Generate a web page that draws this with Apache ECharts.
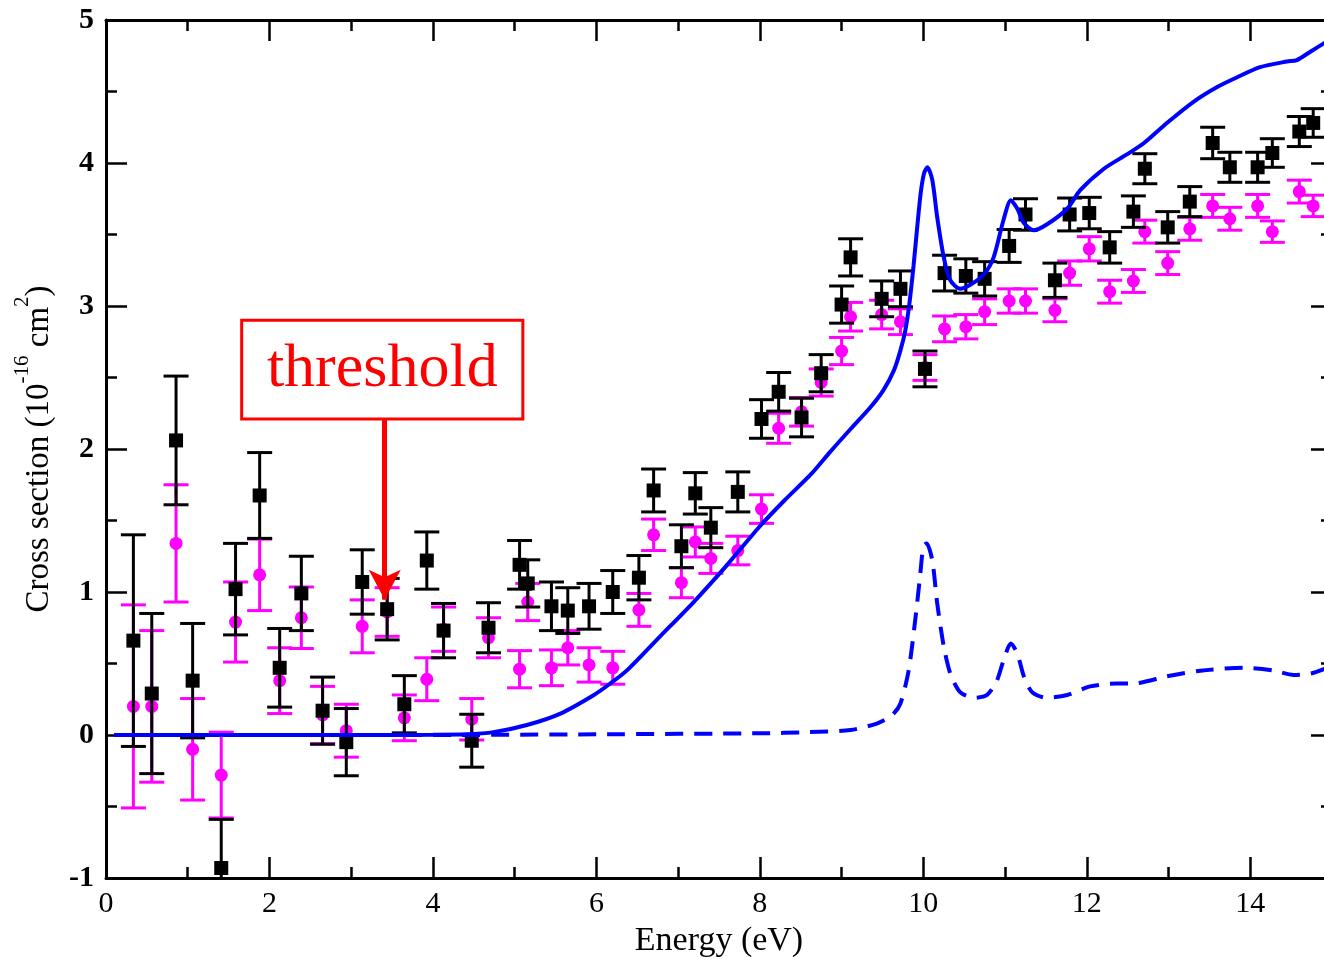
<!DOCTYPE html>
<html><head><meta charset="utf-8">
<script src="https://cdn.jsdelivr.net/npm/echarts@6/dist/echarts.min.js"></script>
<style>html,body{margin:0;padding:0;background:#fff}#c{width:1324px;height:957px}</style>
</head><body><div id="c"></div>
<script>
// Experimental set A (black squares)
const expAX = [0.335,0.56,0.857,1.06,1.41,1.585,1.88,2.125,2.39,2.65,2.94,3.135,3.44,3.65,3.925,4.13,4.475,4.68,5.06,5.16,5.45,5.65,5.91,6.20,6.52,6.70,7.04,7.21,7.40,7.73,8.02,8.23,8.51,8.75,9.00,9.11,9.49,9.72,10.02,10.26,10.52,10.75,11.05,11.25,11.61,11.79,12.03,12.28,12.57,12.71,12.99,13.26,13.54,13.75,14.09,14.27,14.60,14.77];
const expAY = [0.66,0.29,2.06,0.38,-0.93,1.02,1.675,0.47,0.99,0.17,-0.05,1.07,0.88,0.215,1.22,0.73,-0.04,0.75,1.19,1.06,0.90,0.87,0.90,1.00,1.10,1.71,1.32,1.69,1.45,1.70,2.21,2.40,2.22,2.53,3.01,3.34,3.05,3.12,2.56,3.23,3.21,3.19,3.42,3.64,3.18,3.64,3.65,3.41,3.66,3.96,3.55,3.73,4.14,3.97,3.97,4.07,4.22,4.28];
const expAErr = [0.74,0.56,0.45,0.40,0.34,0.32,0.30,0.275,0.26,0.235,0.235,0.225,0.215,0.20,0.20,0.19,0.185,0.175,0.17,0.165,0.17,0.16,0.16,0.15,0.155,0.15,0.15,0.145,0.14,0.14,0.135,0.135,0.135,0.13,0.13,0.13,0.125,0.125,0.125,0.125,0.12,0.12,0.115,0.11,0.12,0.115,0.11,0.11,0.11,0.105,0.11,0.105,0.11,0.105,0.105,0.10,0.105,0.10];
// Experimental set B (magenta circles)
const expBX = expAX;
const expBY = [0.20,0.20,1.34,-0.10,-0.28,0.79,1.12,0.38,0.82,0.14,0.03,0.76,0.86,0.12,0.39,0.74,0.11,0.68,0.46,0.93,0.47,0.61,0.49,0.47,0.875,1.40,1.065,1.35,1.235,1.29,1.58,2.145,2.26,2.465,2.685,2.925,2.94,2.89,2.57,2.84,2.855,2.96,3.035,3.035,2.97,3.23,3.40,3.10,3.175,3.52,3.30,3.54,3.70,3.61,3.70,3.52,3.80,3.70];
const expBErr = [0.71,0.53,0.41,0.355,0.30,0.28,0.25,0.23,0.215,0.20,0.185,0.185,0.17,0.16,0.15,0.155,0.145,0.14,0.13,0.13,0.125,0.12,0.12,0.115,0.115,0.11,0.105,0.105,0.105,0.10,0.10,0.105,0.10,0.095,0.095,0.10,0.10,0.09,0.09,0.09,0.085,0.09,0.085,0.085,0.08,0.085,0.085,0.08,0.08,0.08,0.08,0.08,0.08,0.08,0.08,0.075,0.08,0.075];
// Theory: total (solid)
const totalX = [0.1,1,2,3,4,4.4,4.74,5.15,5.56,5.97,6.17,6.37,6.78,7.19,7.6,8.0,8.3,8.62,8.86,9.11,9.35,9.51,9.64,9.72,9.78,9.83,9.88,9.93,9.97,10.01,10.05,10.11,10.17,10.25,10.33,10.45,10.58,10.74,10.86,10.98,11.07,11.15,11.23,11.35,11.51,11.76,11.92,12.21,12.49,12.7,12.98,13.31,13.59,13.84,14.12,14.45,14.57,14.74,14.91,15.0];
const totalY = [0,0,0,0,0.002,0.005,0.02,0.07,0.15,0.28,0.36,0.45,0.69,0.93,1.19,1.46,1.64,1.82,1.98,2.14,2.29,2.41,2.55,2.69,2.83,3.02,3.28,3.58,3.80,3.93,3.97,3.88,3.62,3.34,3.18,3.12,3.15,3.22,3.34,3.60,3.74,3.68,3.58,3.53,3.57,3.68,3.81,3.96,4.06,4.14,4.28,4.43,4.53,4.60,4.67,4.71,4.72,4.78,4.84,4.87];
// Theory: partial (dashed)
const partX = [0.1,4,6,8,8.6,9.11,9.43,9.62,9.72,9.82,9.9,9.96,10.0,10.04,10.11,10.17,10.25,10.33,10.45,10.62,10.78,10.9,10.98,11.07,11.15,11.23,11.33,11.51,11.76,12.04,12.37,12.57,12.98,13.39,13.92,14.29,14.53,14.74,14.9,15.0];
const partY = [0,0,0.005,0.012,0.02,0.035,0.08,0.14,0.22,0.45,0.8,1.11,1.32,1.34,1.22,0.92,0.62,0.43,0.30,0.26,0.28,0.38,0.52,0.64,0.57,0.41,0.30,0.26,0.28,0.34,0.36,0.36,0.41,0.45,0.47,0.45,0.42,0.43,0.46,0.47];
// Annotation
const annotText = 'threshold';
const annotBox = [[1.66, 2.90], [5.10, 2.21]];
const annotArrow = [[3.41, 2.21], [3.41, 0.945]];

const SERIF = 'Liberation Serif, Times New Roman, serif';
const zip = (xs, ys) => xs.map((x, i) => [x, ys[i]]);
const errData = (xs, ys, es) => xs.map((x, i) => [x, ys[i] - es[i], ys[i] + es[i]]);

function errRender(color) {
  return function (params, api) {
    const x = api.value(0), lo = api.value(1), hi = api.value(2);
    const a = api.coord([x, lo]), b = api.coord([x, hi]);
    const hw = 12.5;
    const style = { stroke: color, lineWidth: 3, fill: null };
    return { type: 'group', children: [
      { type: 'line', shape: { x1: a[0], y1: a[1], x2: b[0], y2: b[1] }, style },
      { type: 'line', shape: { x1: a[0] - hw, y1: a[1], x2: a[0] + hw, y2: a[1] }, style },
      { type: 'line', shape: { x1: b[0] - hw, y1: b[1], x2: b[0] + hw, y2: b[1] }, style }
    ]};
  };
}

const tickStyle = { color: '#000', width: 2.5 };
function xAx(pos, showLabel) {
  return {
    type: 'value', position: pos, min: 0, max: 15, interval: 2,
    axisLine: { onZero: false, lineStyle: { color: '#000', width: 3 } },
    axisTick: { inside: true, length: 21, lineStyle: tickStyle },
    minorTick: { show: true, splitNumber: 2, length: 11, lineStyle: tickStyle },
    splitLine: { show: false }, minorSplitLine: { show: false },
    axisLabel: { show: showLabel, showMaxLabel: false, color: '#000', fontFamily: SERIF, fontSize: 30, margin: 11 },
    name: showLabel ? 'Energy (eV)' : '', nameLocation: 'middle', nameGap: 46,
    nameTextStyle: { color: '#000', fontFamily: SERIF, fontSize: 34 }
  };
}
function yAx(pos, showLabel) {
  return {
    type: 'value', position: pos, min: -1, max: 5, interval: 1,
    axisLine: { onZero: false, lineStyle: { color: '#000', width: 3 } },
    axisTick: { inside: true, length: 21, lineStyle: tickStyle },
    minorTick: { show: true, splitNumber: 2, length: 11, lineStyle: tickStyle },
    splitLine: { show: false }, minorSplitLine: { show: false },
    axisLabel: { show: showLabel, color: '#000', fontFamily: SERIF, fontSize: 30, fontWeight: 'bold', margin: 12 },
    name: showLabel ? '{n|Cross section (10}{s|-16}{n| cm}{s|2}{n|)}' : '',
    nameLocation: 'middle', nameGap: 50, nameRotate: 90,
    nameTextStyle: { color: '#000', fontFamily: SERIF, fontSize: 33,
      rich: {
        n: { fontFamily: SERIF, fontSize: 33, color: '#000', lineHeight: 44, verticalAlign: 'bottom' },
        s: { fontFamily: SERIF, fontSize: 21, color: '#000', lineHeight: 21, verticalAlign: 'top' }
      } }
  };
}

const chart = echarts.init(document.getElementById('c'), null, { renderer: 'canvas' });
chart.setOption({
  animation: false,
  backgroundColor: '#fff',
  grid: { left: 106, top: 20, width: 1226, height: 858, containLabel: false, outerBoundsMode: 'none' },
  xAxis: [xAx('bottom', true), xAx('top', false)],
  yAxis: [yAx('left', true), yAx('right', false)],
  series: [
    { type: 'custom', name: 'errB', clip: true, renderItem: errRender('#ff00ff'),
      data: errData(expBX, expBY, expBErr), encode: { x: 0, y: [1, 2] }, z: 2 },
    { type: 'scatter', name: 'B', data: zip(expBX, expBY), symbol: 'circle', symbolSize: 13,
      itemStyle: { color: '#ff00ff', opacity: 1 }, z: 3 },
    { type: 'custom', name: 'errA', clip: true, renderItem: errRender('#000000'),
      data: errData(expAX, expAY, expAErr), encode: { x: 0, y: [1, 2] }, z: 4 },
    { type: 'scatter', name: 'A', data: zip(expAX, expAY), symbol: 'rect', symbolSize: 14,
      itemStyle: { color: '#000', opacity: 1 }, z: 5 },
    { type: 'line', name: 'partial', data: zip(partX, partY), showSymbol: false, smooth: 0.25,
      lineStyle: { color: '#0000ff', width: 4, type: [18, 11] }, z: 6 },
    { type: 'line', name: 'total', data: zip(totalX, totalY), showSymbol: false, smooth: 0.25,
      lineStyle: { color: '#0000ff', width: 4 }, z: 7,
      markArea: { silent: true,
        itemStyle: { color: '#ffffff', borderColor: '#ff0000', borderWidth: 3 },
        label: { show: true, position: 'inside', formatter: annotText, color: '#ff0000', fontFamily: SERIF, fontSize: 62 },
        data: [[{ coord: annotBox[0] }, { coord: annotBox[1] }]] },
      markLine: { silent: true, symbol: ['none', 'arrow'], symbolSize: [24, 30],
        lineStyle: { color: '#ff0000', width: 5, type: 'solid' }, label: { show: false },
        data: [[{ coord: annotArrow[0] }, { coord: annotArrow[1] }]] }
    }
  ]
});
</script></body></html>
